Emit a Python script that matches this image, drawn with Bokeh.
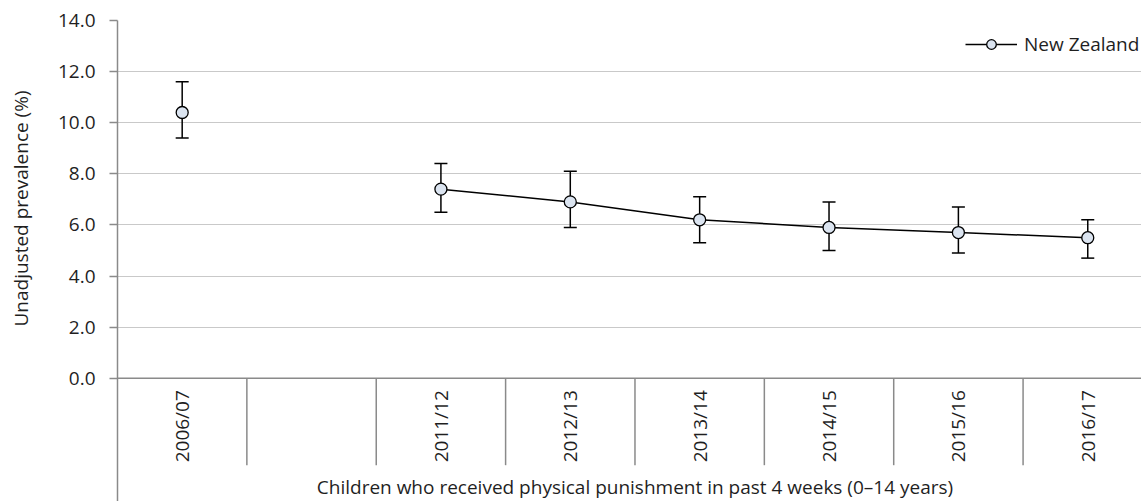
import math
from bokeh.plotting import figure
from bokeh.models import (ColumnDataSource, Whisker, TeeHead, Range1d, FixedTicker,
                          NumeralTickFormatter, Span, Title)
from bokeh.core.properties import value
from bokeh.embed import file_html
from bokeh.resources import INLINE

# ---- data ----
categories = ["2006/07", "", "2011/12", "2012/13", "2013/14", "2014/15", "2015/16", "2016/17"]
prevalence = [10.4, None, 7.4, 6.9, 6.2, 5.9, 5.7, 5.5]
ci_upper = [11.6, None, 8.4, 8.1, 7.1, 6.9, 6.7, 6.2]
ci_lower = [9.4, None, 6.5, 5.9, 5.3, 5.0, 4.9, 4.7]
y_ticks = [0, 2, 4, 6, 8, 10, 12, 14]
series_name = "New Zealand"
x_title = "Children who received physical punishment in past 4 weeks (0\u201314 years)"
y_title = "Unadjusted prevalence (%)"

FONT = "Open Sans"
TXT = "#1f1f1f"
AXIS = "#8a8a8a"
GRID = "#c9c9c9"

W, H = 1141, 501
left, top = 112, 20
frame_h = H - top
px_per_unit = 25.55
y_min = -(frame_h - 14 * px_per_unit) / px_per_unit
cat_w = 130.0
x_max = (W - left) / cat_w

xs = [i + 0.5 for i in range(len(categories))]
ys = [float("nan") if v is None else v for v in prevalence]

p = figure(width=W, height=H, output_backend="svg", toolbar_location=None,
           x_axis_location=None, x_range=Range1d(0, x_max), y_range=Range1d(y_min, 14),
           min_border_left=left, min_border_top=top, min_border_right=0, min_border_bottom=0)
p.outline_line_color = None
p.xgrid.grid_line_color = None

# y axis
p.yaxis.ticker = FixedTicker(ticks=y_ticks)
p.yaxis.formatter = NumeralTickFormatter(format="0.0")
p.yaxis.axis_line_color = AXIS
p.yaxis.axis_line_width = 1.5
p.yaxis.major_tick_line_color = AXIS
p.yaxis.major_tick_line_width = 1.5
p.yaxis.major_tick_in = 0
p.yaxis.major_tick_out = 8
p.yaxis.minor_tick_line_color = None
p.yaxis.major_label_standoff = 14
p.yaxis.major_label_text_font = FONT
p.yaxis.major_label_text_font_size = "19px"
p.yaxis.major_label_text_color = TXT
# spacer so that the side title sits further left
p.yaxis.axis_label = " "
p.yaxis.axis_label_text_font_size = "1px"
p.yaxis.axis_label_standoff = 12
p.ygrid.grid_line_color = GRID
p.ygrid.grid_line_width = 1.2

p.add_layout(Title(text=y_title, align="right", offset=70, text_font=FONT,
                   text_font_size="19px", text_font_style="normal", text_color=TXT), "left")

# category axis (drawn at y = 0)
p.add_layout(Span(location=0, dimension="width", line_color=AXIS, line_width=1.5))
bounds = list(range(1, len(categories)))
sep_len = 87 / px_per_unit
p.segment(x0=bounds, y0=[0] * len(bounds), x1=bounds, y1=[-sep_len] * len(bounds),
          line_color=AXIS, line_width=1.5)
p.text(x=xs, y=[0] * len(xs), text=categories, angle=math.pi / 2, text_align="right",
       text_baseline="middle", y_offset=12, text_font=value(FONT), text_font_size="19px",
       text_color=TXT)
p.text(x=[len(categories) / 2], y=[0], text=[x_title], text_align="center",
       text_baseline="alphabetic", y_offset=109, text_font=value(FONT),
       text_font_size="19px", text_color=TXT)

# error bars
eb = [(x, u, l) for x, u, l in zip(xs, ci_upper, ci_lower) if u is not None]
esrc = ColumnDataSource(dict(x=[e[0] for e in eb], upper=[e[1] for e in eb], lower=[e[2] for e in eb]))
p.add_layout(Whisker(base="x", upper="upper", lower="lower", source=esrc,
                     line_color="black", line_width=1.5,
                     upper_head=TeeHead(size=13, line_color="black", line_width=1.5),
                     lower_head=TeeHead(size=13, line_color="black", line_width=1.5)))

# series
src = ColumnDataSource(dict(x=xs, y=ys))
p.line("x", "y", source=src, line_color="black", line_width=1.5, legend_label=series_name)
p.scatter("x", "y", source=src, size=12, fill_color="#dbe4f0", line_color="black",
          line_width=1.3, legend_label=series_name)

legend = p.legend[0]
legend.location = (960 - left, (H - 57))  # bottom-left corner, from frame bottom-left
legend.margin = 0
legend.padding = 0
legend.border_line_color = None
legend.background_fill_alpha = 0
legend.label_text_font = FONT
legend.label_text_font_size = "19px"
legend.label_text_color = TXT
legend.glyph_width = 52
legend.glyph_height = 24
legend.label_height = 24
legend.label_width = 120
legend.label_standoff = 7

open("out.html", "w").write(file_html(p, INLINE))
